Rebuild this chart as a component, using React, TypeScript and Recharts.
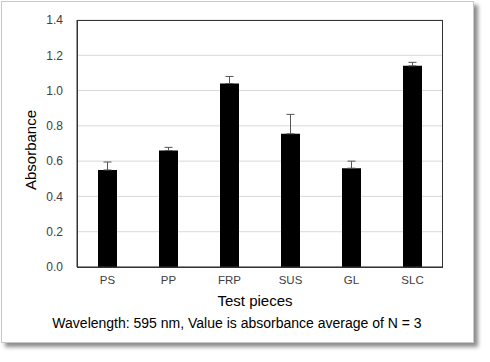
import React from 'react';
import { BarChart, Bar, XAxis, YAxis, CartesianGrid, ErrorBar } from 'recharts';

const pieces = ['PS', 'PP', 'FRP', 'SUS', 'GL', 'SLC'];
const absorbance = [0.55, 0.66, 1.04, 0.755, 0.56, 1.14];
const errors = [0.045, 0.018, 0.04, 0.11, 0.04, 0.02];
const yTicks = [0, 0.2, 0.4, 0.6, 0.8, 1.0, 1.2, 1.4];

const data = pieces.map((name, i) => ({
  name,
  value: absorbance[i],
  err: [0, errors[i]],
}));

const font = '"Liberation Sans", Arial, sans-serif';

const App: React.FC = () => {
  return (
    <div
      style={{
        position: 'absolute',
        left: 0,
        top: 0,
        width: 490,
        height: 362,
        background: '#fff',
        fontFamily: font,
      }}
    >
      <div
        style={{
          position: 'absolute',
          left: 1,
          top: 1,
          width: 471,
          height: 340,
          border: '1px solid #c8c8c8',
          boxShadow: '4px 4px 4px rgba(0,0,0,0.45)',
          background: '#fff',
        }}
      />
      <div style={{ position: 'absolute', left: 0, top: 0 }}>
        <BarChart
          width={490}
          height={362}
          data={data}
          margin={{ top: 20, right: 47, bottom: 65, left: 37 }}
        >
          <CartesianGrid vertical={false} stroke='#d9d9d9' />
          <XAxis
            dataKey='name'
            height={30}
            tickLine={false}
            tickSize={6}
            tickMargin={3}
            axisLine={{ stroke: '#333' }}
            tick={{ fill: '#404040', fontSize: 11.5, fontFamily: font }}
          />
          <YAxis
            width={40}
            domain={[0, 1.4]}
            ticks={yTicks}
            tickFormatter={(v: number) => v.toFixed(1)}
            tickLine={false}
            tickMargin={8}
            axisLine={{ stroke: '#333' }}
            tick={{ fill: '#404040', fontSize: 12, fontFamily: font }}
          />
          <Bar dataKey='value' fill='#000' barSize={19} isAnimationActive={false}>
            <ErrorBar dataKey='err' width={4} stroke='#555' strokeWidth={1} isAnimationActive={false} />
          </Bar>
        </BarChart>
      </div>
      {/* plot frame */}
      <div
        style={{
          position: 'absolute',
          left: 77,
          top: 20,
          width: 366,
          height: 248,
          boxSizing: 'border-box',
          border: '1px solid #333',
          pointerEvents: 'none',
        }}
      />
      <div
        style={{
          position: 'absolute',
          left: 20,
          width: 470,
          top: 292,
          textAlign: 'center',
          fontSize: 15,
          color: '#000',
        }}
      >
        Test pieces
      </div>
      <div
        style={{
          position: 'absolute',
          left: 0,
          width: 474,
          top: 315,
          textAlign: 'center',
          fontSize: 14,
          color: '#000',
        }}
      >
        Wavelength: 595 nm, Value is absorbance average of N = 3
      </div>
      <div
        style={{
          position: 'absolute',
          left: 30,
          top: 150,
          transform: 'translate(-50%, -50%) rotate(-90deg)',
          fontSize: 15,
          color: '#000',
          whiteSpace: 'nowrap',
        }}
      >
        Absorbance
      </div>
    </div>
  );
};

export default App;
